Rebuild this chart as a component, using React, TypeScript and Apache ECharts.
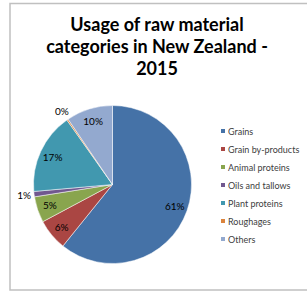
import React, { useEffect, useRef } from "react";
import * as echarts from "echarts";

const categories = [
  "Grains",
  "Grain by-products",
  "Animal proteins",
  "Oils and tallows",
  "Plant proteins",
  "Roughages",
  "Others",
];
const values = [60.8, 6.4, 5.3, 1.1, 16.6, 0.3, 9.5];
const colors = ["#4572A7", "#AA4643", "#89A54E", "#71588F", "#4198AF", "#DB843D", "#93A9CF"];
const outsideLabels = ["Oils and tallows", "Roughages"];
const titleText = "Usage of raw material\ncategories in New Zealand -\n2015";

const FONT = "Lato";

export default function App() {
  const ref = useRef<HTMLDivElement>(null);
  useEffect(() => {
    if (!ref.current) return;
    const chart = echarts.init(ref.current, undefined, { renderer: "svg" });
    const fmt = (p: any) => Math.round(p.percent) + "%";
    const labelStyle = {
      fontFamily: FONT,
      fontSize: 10,
      color: "#000",
      opacity: 1,
      textBorderWidth: 0,
      textShadowBlur: 0,
    };
    const center = [112.5, 184.5];
    const overlay = (radius: number[], showOutside: boolean) => ({
      type: "pie",
      z: 5,
      center,
      radius,
      startAngle: 90,
      clockwise: true,
      avoidLabelOverlap: false,
      silent: true,
      data: categories.map((n, i) => ({
        name: n,
        value: values[i],
        label: { show: outsideLabels.includes(n) === showOutside },
      })),
      itemStyle: { color: "rgba(255,255,255,0.002)", borderWidth: 0 },
      label: { position: "inside", formatter: fmt, ...labelStyle },
      labelLine: { show: false },
      emphasis: { disabled: true },
    });
    chart.setOption({
      animation: false,
      color: colors,
      title: {
        text: titleText,
        left: 157,
        top: 13,
        padding: 0,
        textAlign: "center",
        textStyle: {
          fontFamily: FONT,
          fontSize: 18,
          fontWeight: "bold",
          color: "#000",
          lineHeight: 22,
        },
      },
      legend: {
        orient: "vertical",
        left: 219,
        top: 126,
        padding: 0,
        itemWidth: 6,
        itemHeight: 6,
        itemGap: 8,
        icon: "rect",
        selectedMode: false,
        data: categories,
        textStyle: {
          fontFamily: FONT,
          fontSize: 9,
          color: "#404040",
          lineHeight: 10,
          padding: [0, 0, 0, -3],
        },
      },
      graphic: [
        {
          type: "rect",
          shape: { x: 10, y: 3.5, width: 310, height: 286.5 },
          style: { fill: "none", stroke: "#c0c0c0", lineWidth: 1.5 },
          silent: true,
        },
      ],
      series: [
        {
          type: "pie",
          center,
          radius: [0, 79],
          startAngle: 90,
          clockwise: true,
          data: categories.map((n, i) => ({ name: n, value: values[i] })),
          itemStyle: { borderColor: "#fff", borderWidth: 0.5 },
          label: { show: false },
          labelLine: { show: false },
          emphasis: { disabled: true },
        },
        overlay([50, 76], false),
        overlay([82, 90], true),
      ],
    });
    return () => chart.dispose();
  }, []);
  return (
    <div
      ref={ref}
      style={{ position: "fixed", left: 0, top: 0, width: 307, height: 291, background: "#fff" }}
    />
  );
}
